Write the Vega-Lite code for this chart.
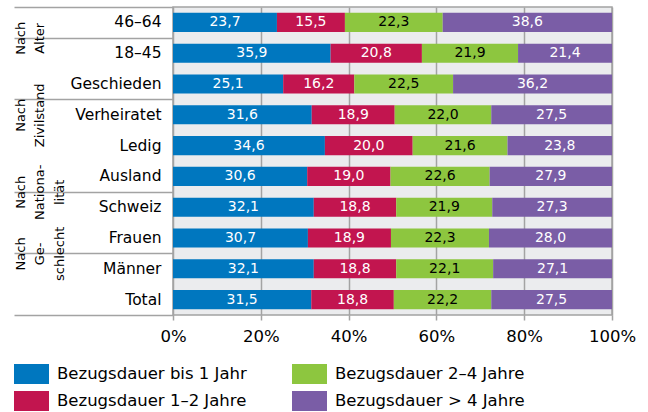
{
  "$schema": "https://vega.github.io/schema/vega-lite/v6.json",
  "width": 439,
  "height": 308,
  "padding": {"left": 13, "top": 6, "right": 5, "bottom": 0},
  "config": {
    "font": "DejaVu Sans",
    "locale": {"number": {"decimal": ",", "thousands": "'", "grouping": [3], "currency": ["", ""]}},
    "view": {"fill": "#EBECEE", "stroke": "#A3A3A3", "strokeWidth": 1.5}
  },
  "data": {
    "values": [
      {"gruppe": "Nach Alter", "merkmal": "46–64", "dauer": "Bezugsdauer bis 1 Jahr", "stufe": 1, "anteil": 23.7},
      {"gruppe": "Nach Alter", "merkmal": "46–64", "dauer": "Bezugsdauer 1–2 Jahre", "stufe": 2, "anteil": 15.5},
      {"gruppe": "Nach Alter", "merkmal": "46–64", "dauer": "Bezugsdauer 2–4 Jahre", "stufe": 3, "anteil": 22.3},
      {"gruppe": "Nach Alter", "merkmal": "46–64", "dauer": "Bezugsdauer > 4 Jahre", "stufe": 4, "anteil": 38.6},
      {"gruppe": "Nach Alter", "merkmal": "18–45", "dauer": "Bezugsdauer bis 1 Jahr", "stufe": 1, "anteil": 35.9},
      {"gruppe": "Nach Alter", "merkmal": "18–45", "dauer": "Bezugsdauer 1–2 Jahre", "stufe": 2, "anteil": 20.8},
      {"gruppe": "Nach Alter", "merkmal": "18–45", "dauer": "Bezugsdauer 2–4 Jahre", "stufe": 3, "anteil": 21.9},
      {"gruppe": "Nach Alter", "merkmal": "18–45", "dauer": "Bezugsdauer > 4 Jahre", "stufe": 4, "anteil": 21.4},
      {"gruppe": "Nach Zivilstand", "merkmal": "Geschieden", "dauer": "Bezugsdauer bis 1 Jahr", "stufe": 1, "anteil": 25.1},
      {"gruppe": "Nach Zivilstand", "merkmal": "Geschieden", "dauer": "Bezugsdauer 1–2 Jahre", "stufe": 2, "anteil": 16.2},
      {"gruppe": "Nach Zivilstand", "merkmal": "Geschieden", "dauer": "Bezugsdauer 2–4 Jahre", "stufe": 3, "anteil": 22.5},
      {"gruppe": "Nach Zivilstand", "merkmal": "Geschieden", "dauer": "Bezugsdauer > 4 Jahre", "stufe": 4, "anteil": 36.2},
      {"gruppe": "Nach Zivilstand", "merkmal": "Verheiratet", "dauer": "Bezugsdauer bis 1 Jahr", "stufe": 1, "anteil": 31.6},
      {"gruppe": "Nach Zivilstand", "merkmal": "Verheiratet", "dauer": "Bezugsdauer 1–2 Jahre", "stufe": 2, "anteil": 18.9},
      {"gruppe": "Nach Zivilstand", "merkmal": "Verheiratet", "dauer": "Bezugsdauer 2–4 Jahre", "stufe": 3, "anteil": 22.0},
      {"gruppe": "Nach Zivilstand", "merkmal": "Verheiratet", "dauer": "Bezugsdauer > 4 Jahre", "stufe": 4, "anteil": 27.5},
      {"gruppe": "Nach Zivilstand", "merkmal": "Ledig", "dauer": "Bezugsdauer bis 1 Jahr", "stufe": 1, "anteil": 34.6},
      {"gruppe": "Nach Zivilstand", "merkmal": "Ledig", "dauer": "Bezugsdauer 1–2 Jahre", "stufe": 2, "anteil": 20.0},
      {"gruppe": "Nach Zivilstand", "merkmal": "Ledig", "dauer": "Bezugsdauer 2–4 Jahre", "stufe": 3, "anteil": 21.6},
      {"gruppe": "Nach Zivilstand", "merkmal": "Ledig", "dauer": "Bezugsdauer > 4 Jahre", "stufe": 4, "anteil": 23.8},
      {"gruppe": "Nach Nationalität", "merkmal": "Ausland", "dauer": "Bezugsdauer bis 1 Jahr", "stufe": 1, "anteil": 30.6},
      {"gruppe": "Nach Nationalität", "merkmal": "Ausland", "dauer": "Bezugsdauer 1–2 Jahre", "stufe": 2, "anteil": 19.0},
      {"gruppe": "Nach Nationalität", "merkmal": "Ausland", "dauer": "Bezugsdauer 2–4 Jahre", "stufe": 3, "anteil": 22.6},
      {"gruppe": "Nach Nationalität", "merkmal": "Ausland", "dauer": "Bezugsdauer > 4 Jahre", "stufe": 4, "anteil": 27.9},
      {"gruppe": "Nach Nationalität", "merkmal": "Schweiz", "dauer": "Bezugsdauer bis 1 Jahr", "stufe": 1, "anteil": 32.1},
      {"gruppe": "Nach Nationalität", "merkmal": "Schweiz", "dauer": "Bezugsdauer 1–2 Jahre", "stufe": 2, "anteil": 18.8},
      {"gruppe": "Nach Nationalität", "merkmal": "Schweiz", "dauer": "Bezugsdauer 2–4 Jahre", "stufe": 3, "anteil": 21.9},
      {"gruppe": "Nach Nationalität", "merkmal": "Schweiz", "dauer": "Bezugsdauer > 4 Jahre", "stufe": 4, "anteil": 27.3},
      {"gruppe": "Nach Geschlecht", "merkmal": "Frauen", "dauer": "Bezugsdauer bis 1 Jahr", "stufe": 1, "anteil": 30.7},
      {"gruppe": "Nach Geschlecht", "merkmal": "Frauen", "dauer": "Bezugsdauer 1–2 Jahre", "stufe": 2, "anteil": 18.9},
      {"gruppe": "Nach Geschlecht", "merkmal": "Frauen", "dauer": "Bezugsdauer 2–4 Jahre", "stufe": 3, "anteil": 22.3},
      {"gruppe": "Nach Geschlecht", "merkmal": "Frauen", "dauer": "Bezugsdauer > 4 Jahre", "stufe": 4, "anteil": 28.0},
      {"gruppe": "Nach Geschlecht", "merkmal": "Männer", "dauer": "Bezugsdauer bis 1 Jahr", "stufe": 1, "anteil": 32.1},
      {"gruppe": "Nach Geschlecht", "merkmal": "Männer", "dauer": "Bezugsdauer 1–2 Jahre", "stufe": 2, "anteil": 18.8},
      {"gruppe": "Nach Geschlecht", "merkmal": "Männer", "dauer": "Bezugsdauer 2–4 Jahre", "stufe": 3, "anteil": 22.1},
      {"gruppe": "Nach Geschlecht", "merkmal": "Männer", "dauer": "Bezugsdauer > 4 Jahre", "stufe": 4, "anteil": 27.1},
      {"gruppe": "Total", "merkmal": "Total", "dauer": "Bezugsdauer bis 1 Jahr", "stufe": 1, "anteil": 31.5},
      {"gruppe": "Total", "merkmal": "Total", "dauer": "Bezugsdauer 1–2 Jahre", "stufe": 2, "anteil": 18.8},
      {"gruppe": "Total", "merkmal": "Total", "dauer": "Bezugsdauer 2–4 Jahre", "stufe": 3, "anteil": 22.2},
      {"gruppe": "Total", "merkmal": "Total", "dauer": "Bezugsdauer > 4 Jahre", "stufe": 4, "anteil": 27.5}
    ]
  },
  "layer": [
    {
      "mark": {"type": "bar", "height": {"band": 0.62}},
      "encoding": {
        "y": {
          "field": "merkmal", "type": "nominal", "sort": null,
          "scale": {"paddingInner": 0, "paddingOuter": 0},
          "axis": {
            "title": null, "orient": "left", "ticks": false, "domain": false,
            "labelPadding": 12, "labelFontSize": 15.5, "labelColor": "#000", "labelAlign": "right", "labelLimit": 200
          }
        },
        "x": {
          "field": "anteil", "type": "quantitative", "stack": "normalize",
          "axis": {
            "title": null, "format": ".0%", "values": [0, 0.2, 0.4, 0.6, 0.8, 1],
            "grid": true, "gridColor": "#A3A3A3", "gridWidth": 1.5, "domain": false,
            "tickColor": "#A3A3A3", "tickSize": 5, "tickWidth": 1.5,
            "labelFontSize": 16.5, "labelColor": "#000", "labelPadding": 8, "labelFlush": false
          }
        },
        "color": {
          "field": "dauer", "type": "nominal",
          "scale": {
            "domain": ["Bezugsdauer bis 1 Jahr", "Bezugsdauer 1–2 Jahre", "Bezugsdauer 2–4 Jahre", "Bezugsdauer > 4 Jahre"],
            "range": ["#0077BF", "#C2154F", "#8DC63F", "#7A5DA6"]
          },
          "legend": {
            "title": null, "orient": "none", "legendX": -159, "legendY": 357,
            "columns": 2, "columnPadding": 45, "rowPadding": 7, "padding": 0,
            "symbolType": "M-1,-1H2.5V1H-1Z", "symbolSize": 400, "symbolStrokeWidth": 0, "symbolOpacity": 1,
            "labelFontSize": 16.5, "labelOffset": 23, "labelColor": "#000", "labelLimit": 300
          }
        },
        "order": {"field": "stufe", "type": "quantitative"}
      }
    },
    {
      "mark": {"type": "text", "fontSize": 14},
      "encoding": {
        "y": {
          "field": "merkmal", "type": "nominal", "sort": null,
          "axis": {
            "title": null, "orient": "left", "domain": false,
            "ticks": true, "tickBand": "extent", "tickSize": 159, "tickColor": "#A3A3A3", "tickWidth": 1.5,
            "tickOpacity": {"condition": {"test": "!isValid(datum.value) || indexof(['46–64','Geschieden','Ausland','Frauen','Total'], datum.value) >= 0", "value": 1}, "value": 0},
            "labelExpr": "datum.value === '46–64' ? ['Nach','Alter'] : datum.value === 'Verheiratet' ? ['Nach','Zivilstand'] : datum.value === 'Ausland' ? ['Nach','Nationa-','lität'] : datum.value === 'Frauen' ? ['Nach','Ge-','schlecht'] : ''",
            "labelAngle": -90, "labelAlign": "center", "labelBaseline": "top", "labelPadding": 0,
            "labelOffset": {"condition": {"test": "datum.value === 'Verheiratet'", "value": 0}, "value": 15.4},
            "labelFontSize": 13, "labelLineHeight": 19.5, "labelColor": "#000", "labelOverlap": false, "labelBound": false
          }
        },
        "x": {"field": "anteil", "type": "quantitative", "stack": "normalize", "bandPosition": 0.5},
        "detail": {"field": "stufe", "type": "nominal"},
        "order": {"field": "stufe", "type": "quantitative"},
        "text": {"field": "anteil", "type": "quantitative", "format": ".1f"},
        "color": {"condition": {"test": "datum.stufe == 3", "value": "#000000"}, "value": "#FFFFFF"}
      }
    }
  ],
  "resolve": {"axis": {"y": "independent"}}
}
